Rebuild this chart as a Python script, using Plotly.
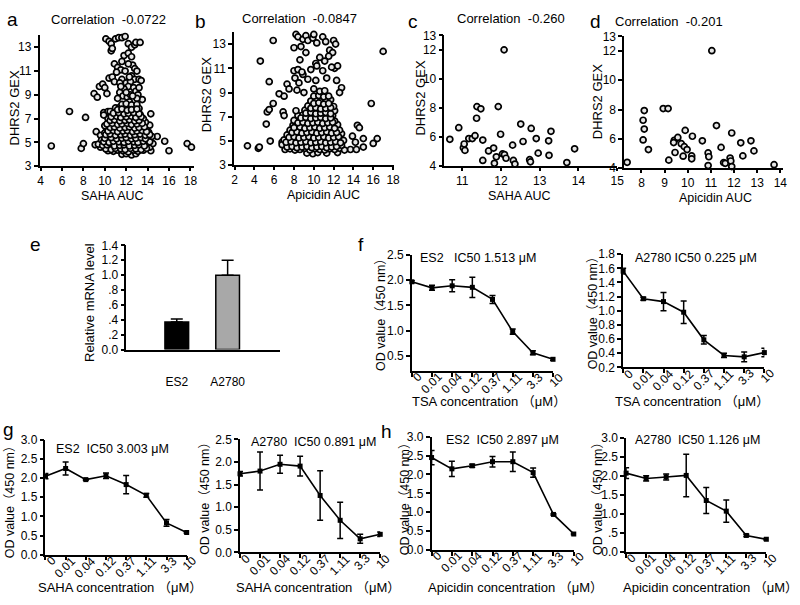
import plotly.graph_objects as go

W, H = 800, 605
FONT = "Liberation Sans, Arial, Noto Sans CJK SC, sans-serif"

# ---------------- data ----------------
a_points = [
    (5.0,4.7),(6.7,7.6),(7.8,4.5),(8.0,4.9),(8.2,7.1),(9.1,4.8),(9.2,5.9),(9.0,9.1),(9.3,8.8),(9.5,9.7),
    (9.8,9.9),(10.0,9.6),(10.2,9.1),(15.6,5.1),(16.0,4.3),(17.7,4.9),(18.1,4.6),(14.9,5.5),(14.3,7.4),
    (9.6,5.6),(9.9,7.5),(10.3,7.6),
    (10.1,13.7),(10.4,13.5),(10.6,13.3),(11.0,13.7),(11.3,13.8),(11.6,13.8),(11.9,13.9),(12.2,13.3),
    (12.5,13.0),(12.8,13.2),(12.9,13.4),(13.3,13.4),(10.6,12.7),(10.7,12.9),(11.8,12.3),(12.2,12.5),
    (12.5,12.2),(11.6,11.8),(12.6,11.5),(10.9,11.6),(11.2,11.3),(11.5,11.1),(12.8,11.2),(13.0,11.0),
    (11.1,10.9),(12.5,10.6),(10.4,10.4),(10.7,10.5),(11.6,10.3),(12.8,10.3),(13.2,10.3),(13.4,10.2),
    (10.9,10.1),(11.4,10.0),(12.0,10.0),(12.4,10.1),(12.2,9.7),(11.8,9.5),(12.7,9.6),(12.9,9.3),
    (13.1,9.0),(11.4,9.2),(11.7,8.9),(12.1,8.8),(12.4,9.0),(13.5,8.6),(11.2,8.7),(12.3,8.4),(13.0,8.7),
    (12.0,9.2),(12.6,8.9),(11.5,9.7),(13.2,9.6),(12.3,10.5),(11.9,11.0),(12.2,11.6),
    (11.6,4.0),(12.0,4.05),(12.5,3.95),(12.9,4.05),
    (10.3,4.3),(10.8,4.25),(11.2,4.35),(11.7,4.3),(12.2,4.2),(12.7,4.35),(13.1,4.25),(13.6,4.35),(14.3,4.3),
    (9.6,4.6),(10.0,4.65),(10.5,4.55),(11.0,4.6),(11.4,4.7),(11.9,4.55),(12.4,4.65),(12.8,4.6),(13.3,4.55),(13.8,4.65),(14.2,4.6),
    (9.4,4.85),(9.9,4.95),(10.3,4.9),(10.7,4.85),(11.2,4.95),(11.6,4.9),(12.1,4.85),(12.6,4.95),(13.0,4.9),(13.5,4.85),(14.0,4.95),(14.5,4.9),
    (9.7,5.2),(10.1,5.25),(10.5,5.15),(11.0,5.2),(11.4,5.3),(11.9,5.15),(12.3,5.25),(12.8,5.2),(13.2,5.15),(13.7,5.25),(14.1,5.2),
    (10.3,5.5),(10.8,5.55),(11.2,5.45),(11.7,5.5),(12.1,5.6),(12.6,5.45),(13.0,5.5),(13.5,5.55),(13.9,5.45),(14.4,5.5),
    (10.0,5.8),(10.5,5.85),(11.0,5.75),(11.4,5.8),(11.9,5.9),(12.3,5.75),(12.8,5.85),(13.2,5.8),(13.7,5.75),(14.1,5.85),
    (10.2,6.1),(10.7,6.05),(11.2,6.15),(11.6,6.1),(12.1,6.0),(12.5,6.15),(13.0,6.1),(13.4,6.05),(13.9,6.15),
    (10.0,6.4),(10.4,6.45),(10.9,6.35),(11.4,6.4),(11.8,6.5),(12.3,6.35),(12.7,6.45),(13.2,6.4),(13.6,6.35),(14.2,6.45),
    (10.6,6.7),(11.1,6.75),(11.5,6.65),(12.0,6.7),(12.5,6.8),(12.9,6.65),(13.4,6.75),(13.8,6.7),
    (10.3,7.0),(10.8,7.05),(11.3,6.95),(11.7,7.0),(12.2,7.1),(12.7,6.95),(13.1,7.05),(13.6,7.0),
    (9.9,7.3),(11.0,7.35),(11.5,7.25),(11.9,7.3),(12.4,7.4),(12.9,7.25),(13.3,7.35),
    (10.5,7.6),(11.2,7.65),(11.7,7.55),(12.1,7.6),(12.6,7.7),(13.1,7.55),
    (11.0,7.9),(11.4,7.95),(11.9,7.85),(12.3,7.9),(12.8,8.0),(13.2,7.85),
    (11.6,8.2),(12.0,8.25),(12.5,8.15),(13.0,8.2),
    (10.1,4.45),(10.6,4.4),(11.0,4.5),(11.5,4.45),(11.9,4.4),(12.4,4.5),(12.9,4.45),(13.4,4.4),(13.9,4.5),
    (9.8,4.75),(10.2,4.8),(10.9,4.7),(11.4,4.75),(11.8,4.8),(12.3,4.7),(12.8,4.75),(13.2,4.8),(13.7,4.7),
    (9.9,5.05),(10.4,5.0),(10.8,5.1),(11.3,5.05),(11.8,5.0),(12.2,5.1),(12.7,5.05),(13.1,5.0),(13.6,5.1),(14.2,5.05),
    (10.0,5.35),(10.6,5.4),(11.1,5.3),(11.6,5.35),(12.0,5.4),(12.5,5.3),(12.9,5.35),(13.4,5.4),(13.8,5.3),
    (10.1,5.65),(10.5,5.7),(11.0,5.6),(11.5,5.65),(11.9,5.7),(12.4,5.6),(12.8,5.65),(13.3,5.7),(13.8,5.6),(14.2,5.65),
    (10.3,5.95),(10.8,6.0),(11.2,5.9),(11.7,5.95),(12.1,6.0),(12.6,5.9),(13.0,5.95),(13.5,6.0),(13.9,5.9),
    (10.5,6.25),(10.9,6.3),(11.4,6.2),(11.9,6.25),(12.3,6.3),(12.8,6.2),(13.2,6.25),(13.7,6.3),
    (10.2,6.55),(10.7,6.6),(11.2,6.5),(11.6,6.55),(12.1,6.6),(12.5,6.5),(13.0,6.55),(13.5,6.6),
    (10.5,6.85),(10.9,6.9),(11.4,6.8),(11.9,6.85),(12.3,6.9),(12.8,6.8),(13.2,6.85),
    (10.6,7.15),(11.1,7.2),(11.5,7.1),(12.0,7.15),(12.5,7.2),(12.9,7.1),(13.4,7.15),
    (10.8,7.45),(11.3,7.5),(11.8,7.4),(12.2,7.45),(12.7,7.5),(13.2,7.4),
    (11.2,7.75),(11.6,7.8),(12.1,7.7),(12.5,7.75),(13.0,7.8),
]

b_points = [
    (3.3,4.6),(4.4,4.4),(4.5,4.5),(4.6,11.6),(5.2,6.4),(5.3,7.4),(5.5,9.9),(5.5,7.6),(5.6,5.0),(5.9,8.1),
    (5.9,13.3),(6.5,8.9),(6.8,4.9),(6.9,7.4),(7.0,7.1),(7.0,8.7),(7.3,9.7),(7.5,9.3),(8.2,13.8),(8.4,13.6),
    (8.0,12.7),(8.7,12.8),(8.9,13.4),(9.2,13.7),(9.4,13.3),(9.2,12.3),(9.9,13.5),(10.0,13.8),(10.3,13.1),
    (10.9,13.6),(11.2,13.2),(11.6,12.5),(12.0,13.3),(12.2,13.0),(11.9,12.3),(11.5,12.0),(10.6,11.9),(8.6,11.7),
    (10.2,11.4),(10.3,11.2),(11.1,11.6),(12.1,11.0),(12.4,11.2),(11.8,11.1),(8.0,10.8),(8.4,10.9),(8.9,10.5),
    (8.8,10.7),(9.7,10.9),(10.9,10.8),(8.1,10.2),(8.5,9.8),(9.4,10.1),(10.2,10.0),(11.3,10.2),(12.3,10.0),
    (12.8,9.4),(12.6,9.0),(8.3,9.2),(9.0,9.0),(10.0,9.3),(13.9,5.4),(13.7,4.3),(14.2,4.9),(14.4,6.3),(14.6,6.1),
    (15.0,5.2),(15.8,8.1),(16.0,4.8),(16.4,5.2),(17.0,12.4),(15.0,4.5),(14.3,4.3),
    (9.3,4.0),(9.9,3.95),(10.4,4.05),(11.3,4.0),(12.4,4.05),
    (7.1,4.3),(7.6,4.35),(8.1,4.25),(8.6,4.3),(9.1,4.4),(9.6,4.25),(10.1,4.35),(10.6,4.3),(11.1,4.25),(11.6,4.35),(12.1,4.3),(12.6,4.4),(13.1,4.25),
    (6.8,4.7),(7.3,4.75),(7.8,4.65),(8.3,4.7),(8.8,4.8),(9.3,4.65),(9.8,4.75),(10.3,4.7),(10.8,4.65),(11.3,4.75),(11.8,4.7),(12.3,4.8),(12.8,4.65),
    (7.0,5.1),(7.5,5.15),(8.0,5.05),(8.5,5.1),(9.0,5.2),(9.5,5.05),(10.0,5.15),(10.5,5.1),(11.0,5.05),(11.5,5.15),(12.0,5.1),(12.5,5.2),(13.0,5.05),
    (7.3,5.5),(7.8,5.55),(8.3,5.45),(8.8,5.5),(9.3,5.6),(9.8,5.45),(10.3,5.55),(10.8,5.5),(11.3,5.45),(11.8,5.55),(12.3,5.5),(12.8,5.6),
    (7.6,5.9),(8.1,5.95),(8.6,5.85),(9.1,5.9),(9.6,6.0),(10.1,5.85),(10.6,5.95),(11.1,5.9),(11.6,5.85),(12.1,5.95),(12.6,5.9),
    (7.9,6.3),(8.4,6.35),(8.9,6.25),(9.4,6.3),(9.9,6.4),(10.4,6.25),(10.9,6.35),(11.4,6.3),(11.9,6.25),(12.4,6.35),
    (8.0,6.7),(8.6,6.75),(9.1,6.65),(9.6,6.7),(10.1,6.8),(10.6,6.65),(11.1,6.75),(11.6,6.7),(12.1,6.65),
    (8.4,7.1),(8.9,7.15),(9.4,7.05),(9.9,7.1),(10.4,7.2),(10.9,7.05),(11.4,7.15),(11.9,7.1),
    (8.2,7.5),(9.1,7.55),(9.6,7.45),(10.1,7.5),(10.6,7.6),(11.1,7.45),(11.6,7.55),(12.1,7.5),
    (9.4,7.9),(9.9,7.95),(10.4,7.85),(10.9,7.9),(11.4,8.0),(12.0,7.85),
    (9.7,8.3),(10.2,8.35),(10.7,8.25),(11.2,8.3),(11.7,8.4),
    (10.0,8.7),(10.5,8.75),(11.0,8.65),(11.5,8.7),
    (10.6,9.1),(11.1,9.15),
    (7.3,4.5),(7.8,4.55),(8.3,4.45),(8.8,4.5),(9.3,4.55),(9.8,4.45),(10.3,4.5),(10.8,4.55),(11.3,4.45),(11.8,4.5),(12.3,4.55),
    (7.2,4.9),(7.7,4.95),(8.2,4.85),(8.7,4.9),(9.2,4.95),(9.7,4.85),(10.2,4.9),(10.7,4.95),(11.2,4.85),(11.7,4.9),(12.2,4.95),(12.7,4.85),
    (7.5,5.3),(8.0,5.35),(8.5,5.25),(9.0,5.3),(9.5,5.35),(10.0,5.25),(10.5,5.3),(11.0,5.35),(11.5,5.25),(12.0,5.3),(12.5,5.35),
    (7.8,5.7),(8.3,5.75),(8.8,5.65),(9.3,5.7),(9.8,5.75),(10.3,5.65),(10.8,5.7),(11.3,5.75),(11.8,5.65),(12.3,5.7),
    (8.0,6.1),(8.6,6.15),(9.1,6.05),(9.6,6.1),(10.1,6.15),(10.6,6.05),(11.1,6.1),(11.6,6.15),(12.1,6.05),
    (8.4,6.5),(8.9,6.55),(9.4,6.45),(9.9,6.5),(10.4,6.55),(10.9,6.45),(11.4,6.5),(11.9,6.55),
    (8.7,6.9),(9.2,6.95),(9.7,6.85),(10.2,6.9),(10.7,6.95),(11.2,6.85),(11.7,6.9),
    (9.2,7.3),(9.7,7.35),(10.2,7.25),(10.7,7.3),(11.2,7.35),(11.7,7.25),
    (9.7,7.7),(10.2,7.75),(10.7,7.65),(11.2,7.7),(11.7,7.75),
    (10.0,8.1),(10.5,8.15),(11.0,8.05),(11.5,8.1),
]

c_points = [
    (10.68,5.85),(10.91,6.65),(11.03,5.27),(11.05,5.53),(11.07,5.09),(11.17,5.9),(11.26,5.9),(11.33,6.1),
    (11.37,7.3),(11.38,8.1),(11.48,7.95),(11.53,5.8),(11.53,4.4),(11.68,5.05),(11.81,5.25),(11.88,4.65),
    (11.83,4.2),(11.93,8.1),(11.99,6.2),(12.04,4.85),(12.08,12.0),(12.09,4.8),(12.13,4.55),(12.30,5.45),
    (12.32,4.4),(12.36,4.15),(12.51,6.9),(12.57,5.7),(12.74,4.45),(12.76,4.3),(12.78,6.6),(12.91,5.9),
    (12.96,4.9),(13.23,5.75),(13.24,4.75),(13.29,6.4),(13.7,4.25),(13.9,5.2),
]

d_points = [
    (7.38,4.4),(8.07,7.27),(8.12,7.93),(8.12,6.67),(8.07,5.93),(8.3,5.27),(8.94,8.07),(9.15,8.07),
    (9.18,4.55),(9.42,5.9),(9.39,5.75),(9.45,5.07),(9.57,6.1),(9.72,5.67),(9.8,4.82),(9.89,6.58),
    (9.85,5.47),(9.97,5.27),(10.17,4.84),(10.17,4.64),(10.2,6.18),(10.63,5.87),(10.88,5.04),(10.91,4.78),
    (10.88,4.18),(11.04,12.02),(11.24,6.91),(11.44,5.42),(11.55,4.38),(11.62,4.33),(11.83,4.69),
    (11.86,4.49),(11.9,4.11),(11.9,6.4),(12.29,5.73),(12.38,4.84),(12.73,5.87),(12.86,5.18),(13.73,4.24),
]

e_cats = ["ES2", "A2780"]
e_vals = [0.37, 1.00]
e_err = [0.04, 0.20]
e_ticks = [0, 0.2, 0.4, 0.6, 0.8, 1.0, 1.2, 1.4]
e_ticktext = ["0.0", ".2", ".4", ".6", ".8", "1.0", "1.2", "1.4"]

conc_labels = ["0", "0.01", "0.04", "0.12", "0.37", "1.11", "3.3", "10"]

f_es2 = [1.97, 1.85, 1.89, 1.86, 1.62, 0.98, 0.56, 0.43]
f_es2_err = [0.02, 0.05, 0.12, 0.20, 0.08, 0.05, 0.04, 0.02]
f_a2780 = [1.56, 1.17, 1.13, 0.98, 0.59, 0.37, 0.35, 0.41]
f_a2780_err = [0.04, 0.02, 0.13, 0.16, 0.06, 0.03, 0.07, 0.06]
g_es2 = [2.05, 2.25, 1.96, 2.06, 1.83, 1.55, 0.83, 0.58]
g_es2_err = [0.07, 0.17, 0.02, 0.07, 0.24, 0.05, 0.09, 0.02]
g_a2780 = [1.74, 1.80, 1.95, 1.91, 1.26, 0.71, 0.30, 0.40]
g_a2780_err = [0.05, 0.42, 0.20, 0.22, 0.55, 0.40, 0.10, 0.05]
h_es2 = [2.45, 2.15, 2.23, 2.34, 2.34, 2.05, 0.94, 0.42]
h_es2_err = [0.19, 0.20, 0.04, 0.14, 0.26, 0.12, 0.02, 0.02]
h_a2780 = [2.07, 1.93, 1.97, 2.01, 1.35, 1.07, 0.43, 0.33]
h_a2780_err = [0.14, 0.07, 0.08, 0.56, 0.34, 0.29, 0.03, 0.02]

# ---------------- helpers ----------------
def fx(px):
    return px / W

def fy(py):
    return 1 - py / H

fig = go.Figure()
layout = {}
annotations = []

axis_base = dict(showline=True, linecolor="black", linewidth=1.5, ticks="outside", ticklen=4,
                 tickwidth=1.5, tickcolor="black", showgrid=False, zeroline=False,
                 tickfont=dict(size=12, color="black", family=FONT), fixedrange=True)

def add_axes(n, box, xr, yr, xkw=None, ykw=None):
    x0, x1, y0, y1 = box
    xa = dict(axis_base, domain=[fx(x0), fx(x1)], range=xr, anchor="y" if n == 1 else f"y{n}")
    ya = dict(axis_base, domain=[fy(y1), fy(y0)], range=yr, anchor="x" if n == 1 else f"x{n}")
    if xkw:
        xa.update(xkw)
    if ykw:
        ya.update(ykw)
    layout["xaxis" if n == 1 else f"xaxis{n}"] = xa
    layout["yaxis" if n == 1 else f"yaxis{n}"] = ya
    return ("x" if n == 1 else f"x{n}"), ("y" if n == 1 else f"y{n}")

def ann(text, px, py, size=13, xanchor="center", angle=0):
    annotations.append(dict(text=text, x=fx(px), y=fy(py), xref="paper", yref="paper",
                            xanchor=xanchor, yanchor="middle", showarrow=False, textangle=angle,
                            font=dict(size=size, color="black", family=FONT)))

scatter_marker = dict(size=6, color="#e6e6e6", line=dict(color="black", width=1.7))

def add_scatter(n, pts, box, xr, yr, xt, yt):
    xa, ya = add_axes(n, box, xr, yr, dict(tickvals=xt, ticklen=3), dict(tickvals=yt))
    fig.add_trace(go.Scatter(x=[p[0] for p in pts], y=[p[1] for p in pts], mode="markers",
                             marker=scatter_marker, xaxis=xa, yaxis=ya, cliponaxis=False,
                             showlegend=False, hoverinfo="skip"))

# ---------------- scatter panels ----------------
add_scatter(1, a_points, (37, 193, 29, 163), [3.9, 18.3], [3, 14], list(range(4, 19, 2)), [3, 5, 7, 9, 11, 13])
add_scatter(2, b_points, (234, 396, 25.6, 162), [1.95, 18.1], [3, 14], list(range(2, 19, 2)), [3, 5, 7, 9, 11, 13])
add_scatter(3, c_points, (447, 622, 29, 163), [10.54, 15], [4, 13], [11, 12, 13, 14, 15], [4, 6, 8, 10, 12, 13])
add_scatter(4, d_points, (629, 789.5, 30, 165), [7.25, 14.1], [4, 13], list(range(7, 15)), [4, 6, 8, 10, 12, 13])

ann("a", 10, 13, 19); ann("b", 200, 15, 19); ann("c", 415, 15, 19); ann("d", 600, 15, 19)
ann("Correlation\u00a0\u00a0-0.0722", 107, 13)
ann("Correlation\u00a0\u00a0-0.0847", 300, 12)
ann("Correlation\u00a0\u00a0-0.260", 514, 12)
ann("Correlation\u00a0\u00a0-0.201", 674, 15)
ann("SAHA AUC", 111, 193.5, 12.5); ann("DHRS2 GEX", 12, 103, angle=-90)
ann("Apicidin AUC", 325, 192.5, 12.5); ann("DHRS2 GEX", 207, 90, angle=-90)
ann("SAHA AUC", 523, 193.5, 12.5); ann("DHRS2 GEX", 423, 93, angle=-90)
ann("Apicidin AUC", 722, 195.5, 12.5); ann("DHRS2 GEX", 602, 97, angle=-90)

# ---------------- bar panel e ----------------
xa, ya = add_axes(5, (125, 280, 244, 350.7), [-0.99, 2.02], [0, 1.4],
                  dict(tickvals=[0, 1], ticktext=e_cats, ticks="", ticklabelstandoff=20),
                  dict(tickvals=e_ticks, ticktext=e_ticktext))
fig.add_trace(go.Bar(x=[0, 1], y=e_vals, width=0.466, xaxis=xa, yaxis=ya,
                     marker=dict(color=["black", "#a8a8a8"], line=dict(color="black", width=1.5)),
                     error_y=dict(type="data", array=e_err, arrayminus=[0, 0], symmetric=False,
                                  color="black", thickness=1.5, width=6),
                     showlegend=False, hoverinfo="skip"))
ann("e", 33, 243, 19)
ann("Relative mRNA level", 87, 302, angle=-90)

# ---------------- line panels ----------------
line_panels = [
    (6, (414, 557, 254, 372.5), [0.2, 2.5], [0.5, 1.0, 1.5, 2.0, 2.5], ["0.5", "1.0", "1.5", "2.0", "2.5"],
     f_es2, f_es2_err),
    (7, (628, 771, 253, 369), [0.2, 1.8], [0.2, 0.4, 0.6, 0.8, 1.0, 1.2, 1.4, 1.6, 1.8],
     ["0.2", "0.4", "0.6", "0.8", "1.0", "1.2", "1.4", "1.6", "1.8"], f_a2780, f_a2780_err),
    (8, (43, 186, 443, 560.7), [0, 3], [0, 0.5, 1.0, 1.5, 2.0, 2.5, 3.0],
     ["0.0", "0.5", "1.0", "1.5", "2.0", "2.5", "3.0"], g_es2, g_es2_err),
    (9, (240, 382, 442.7, 558.3), [0, 2.5], [0, 0.5, 1.0, 1.5, 2.0, 2.5],
     ["0.0", "0.5", "1.0", "1.5", "2.0", "2.5"], g_a2780, g_a2780_err),
    (10, (434, 578, 440, 555.7), [0, 3], [0, 0.5, 1.0, 1.5, 2.0, 2.5, 3.0],
     ["0.0", "0.5", "1.0", "1.5", "2.0", "2.5", "3.0"], h_es2, h_es2_err),
    (11, (631, 773, 441, 557.7), [0, 3], [0, 0.5, 1.0, 1.5, 2.0, 2.5, 3.0],
     ["0.0", ".5", "1.0", "1.5", "2.0", "2.5", "3.0"], h_a2780, h_a2780_err),
]
for n, box, yr, yt, ytt, vals, errs in line_panels:
    xa, ya = add_axes(n, box, [0, 7], yr,
                      dict(tickvals=list(range(8)), showticklabels=False),
                      dict(tickvals=yt, ticktext=ytt))
    fig.add_trace(go.Scatter(x=list(range(8)), y=vals, mode="lines+markers", xaxis=xa, yaxis=ya,
                             line=dict(color="black", width=1.6),
                             marker=dict(symbol="square", size=5, color="black"),
                             error_y=dict(type="data", array=errs, color="black", thickness=1.5, width=3),
                             cliponaxis=False, showlegend=False, hoverinfo="skip"))
    # rotated category labels, placed on the axis's own scale
    axis_py = box[3]
    for i, lab in enumerate(conc_labels):
        L = sum(6.7 if ch.isdigit() else 3.4 for ch in lab)
        annotations.append(dict(text=lab, x=i, xref=xa, y=fy(axis_py), yref="paper",
                                xanchor="center", yanchor="middle", showarrow=False, textangle=-45,
                                xshift=8 - 0.354 * L, yshift=-(4 + 0.354 * L),
                                font=dict(size=12, color="black", family=FONT)))

ann("f", 363, 243, 19); ann("g", 6, 433, 19); ann("h", 388, 435, 19)
ann("ES2\u00a0\u00a0\u00a0IC50 1.513 μM", 420, 257, 12.5, "left")
ann("A2780 IC50 0.225 μM", 638, 257, 12.5, "left")
ann("ES2\u00a0\u00a0IC50 3.003 μM", 52, 452, 12.5, "left")
ann("A2780\u00a0\u00a0IC50 0.891 μM", 249, 445, 12.5, "left")
ann("ES2\u00a0\u00a0IC50 2.897 μM", 447, 443, 12.5, "left")
ann("A2780\u00a0\u00a0IC50 1.126 μM", 638, 443, 12.5, "left")

ann("TSA concentration\u00a0（μM）", 492, 404)
ann("TSA concentration\u00a0（μM）", 698, 404)
ann("SAHA concentration\u00a0（μM）", 118, 594)
ann("SAHA concentration\u00a0（μM）", 319, 594)
ann("Apicidin concentration\u00a0（μM）", 519, 594)
ann("Apicidin concentration\u00a0（μM）", 716, 594)
for (px, py) in [(383, 312), (597, 310), (7, 503), (205, 500), (408, 500), (603, 500)]:
    ann("OD value（450 nm）", px, py, 12.5, angle=-90)

layout.update(width=W, height=H, autosize=False, margin=dict(l=0, r=0, t=0, b=0),
              paper_bgcolor="white", plot_bgcolor="white", annotations=annotations,
              font=dict(family=FONT, color="black"), showlegend=False)
fig.update_layout(**layout)
fig.write_html("out.html", config={"displayModeBar": False},
               post_script="document.body.style.margin='0';document.body.style.overflow='hidden';")
